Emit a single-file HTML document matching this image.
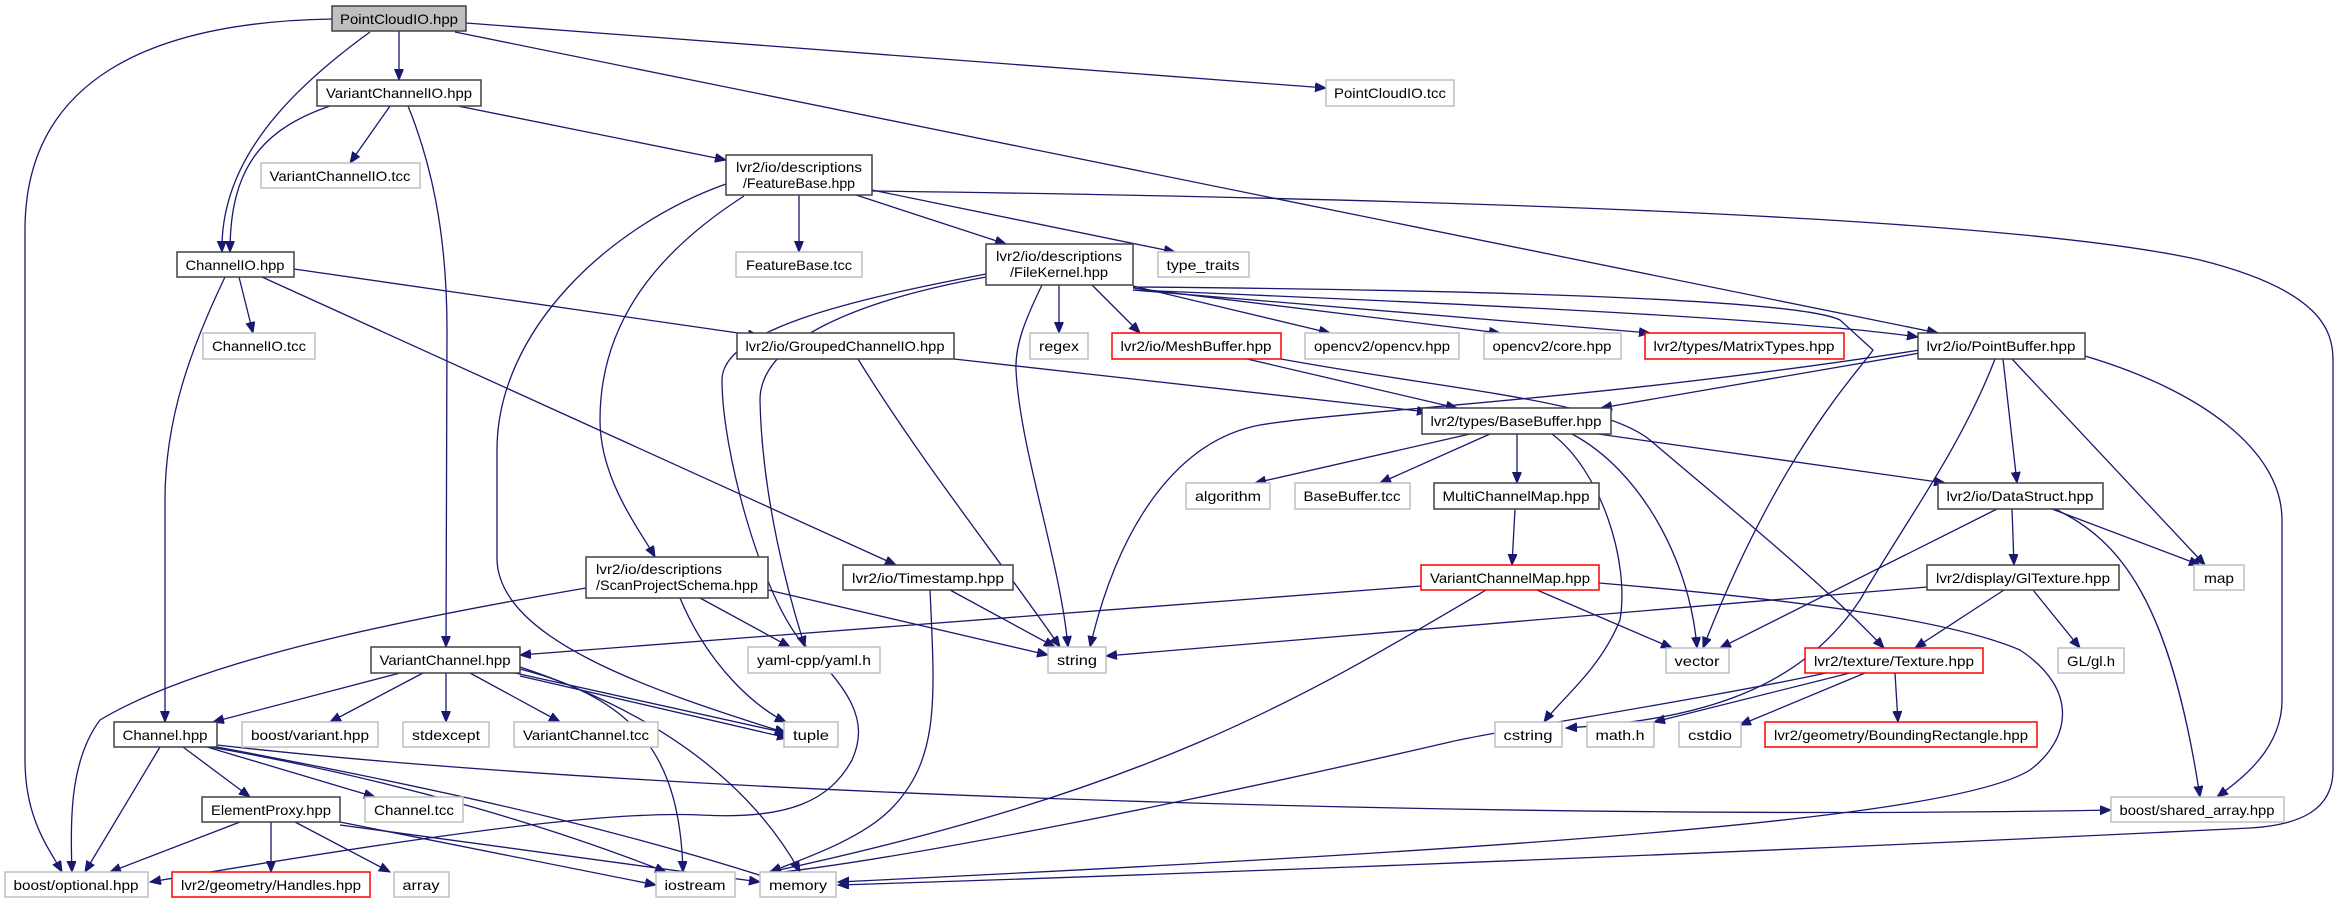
<!DOCTYPE html>
<html><head><meta charset="utf-8"><style>
html,body{margin:0;padding:0;background:#fff;}
svg{display:block;}
text{font-family:"Liberation Sans","DejaVu Sans",sans-serif;font-size:14px;fill:#000;}
.n{fill:#fff;stroke:#404040;stroke-width:1.5;}
.g{fill:#fff;stroke:#bfbfbf;stroke-width:1.5;}
.r{fill:#fff;stroke:#ff0000;stroke-width:1.5;}
.e{fill:none;stroke:#191970;stroke-width:1.3;marker-end:url(#a);}
</style></head><body>
<svg width="2338" height="903" viewBox="0 0 2338 903" xmlns="http://www.w3.org/2000/svg">
<defs><marker id="a" markerUnits="userSpaceOnUse" markerWidth="12" markerHeight="10" refX="11" refY="4.5" orient="auto"><path d="M0,0 L11,4.5 L0,9 z" fill="#191970" stroke="#191970"/></marker></defs>
<g>
<path class="e" d="M332,19 C150,22 25,80 25,230 L25,760 C25,820 50,850 62,872"/>
<path class="e" d="M370,32 C290,90 220,160 222,252"/>
<path class="e" d="M399,31 L399,80"/>
<path class="e" d="M466,23 L1326,88"/>
<path class="e" d="M455,32 L1938,333"/>
<path class="e" d="M390,106 L350,163"/>
<path class="e" d="M330,106 C260,130 230,170 230,252"/>
<path class="e" d="M408,106 C430,160 447,230 447,330 L446,647"/>
<path class="e" d="M458,106 L726,160"/>
<path class="e" d="M239,277 L253,333"/>
<path class="e" d="M294,269 L759,336"/>
<path class="e" d="M262,277 L896,565"/>
<path class="e" d="M225,277 C190,350 165,420 165,500 L165,722"/>
<path class="e" d="M799,195 L799,252"/>
<path class="e" d="M856,195 L1006,244"/>
<path class="e" d="M872,190 L1175,252"/>
<path class="e" d="M872,191 C1400,198 2000,215 2200,260 C2320,290 2333,330 2333,360 L2333,770 C2333,810 2300,825 2250,828 C1600,860 1000,880 838,885"/>
<path class="e" d="M744,196 C660,250 600,320 600,420 C600,480 640,530 655,557"/>
<path class="e" d="M726,184 C610,225 497,330 497,450 L497,560 C500,640 650,690 786,733"/>
<path class="e" d="M1059,285 L1059,333"/>
<path class="e" d="M1092,285 L1140,333"/>
<path class="e" d="M1133,286 L1330,333"/>
<path class="e" d="M1133,288 L1500,333"/>
<path class="e" d="M1133,290 L1650,333"/>
<path class="e" d="M1133,290 C1500,305 1800,320 1918,337"/>
<path class="e" d="M1133,287 C1500,290 1800,300 1840,320 L1873,350 C1860,370 1780,450 1703,648"/>
<path class="e" d="M1042,285 C1025,320 1015,345 1016,370 C1020,450 1060,560 1068,647"/>
<path class="e" d="M986,277 C860,300 760,340 760,400 C762,500 790,600 805,647"/>
<path class="e" d="M986,274 C850,300 722,330 722,380 C722,450 760,590 800,640 C850,690 870,720 852,760 C830,800 790,820 700,815 C600,810 400,840 150,882"/>
<path class="e" d="M954,359 L1428,412"/>
<path class="e" d="M858,359 C920,460 1000,560 1060,647"/>
<path class="e" d="M1247,359 L1457,408"/>
<path class="e" d="M1281,359 C1450,390 1600,400 1650,440 C1720,500 1820,580 1884,648"/>
<path class="e" d="M1920,353 L1601,408"/>
<path class="e" d="M1920,350 C1600,400 1350,410 1260,425 C1180,440 1120,520 1090,647"/>
<path class="e" d="M2003,359 L2017,483"/>
<path class="e" d="M2012,359 L2205,565"/>
<path class="e" d="M2085,356 C2200,390 2282,450 2282,520 L2282,700 C2282,750 2240,780 2217,797"/>
<path class="e" d="M1995,359 C1960,450 1900,530 1860,600 C1800,690 1700,720 1566,728"/>
<path class="e" d="M1470,434 L1255,483"/>
<path class="e" d="M1490,434 L1380,483"/>
<path class="e" d="M1517,434 L1517,483"/>
<path class="e" d="M1572,434 C1640,470 1690,560 1697,648"/>
<path class="e" d="M1552,434 C1600,470 1630,560 1620,620 C1600,670 1560,700 1544,722"/>
<path class="e" d="M1598,434 L1945,483"/>
<path class="e" d="M1515,509 L1512,565"/>
<path class="e" d="M1421,586 L520,655"/>
<path class="e" d="M1537,590 L1672,648"/>
<path class="e" d="M1486,590 C1300,700 1150,790 770,872"/>
<path class="e" d="M1599,583 C1800,600 1950,620 2020,650 C2080,690 2070,740 2030,770 C1950,820 1500,850 838,882"/>
<path class="e" d="M2012,509 L2014,565"/>
<path class="e" d="M2052,509 L2200,565"/>
<path class="e" d="M1997,509 L1720,648"/>
<path class="e" d="M2055,509 C2120,540 2170,600 2200,797"/>
<path class="e" d="M2004,590 L1915,648"/>
<path class="e" d="M2033,590 L2080,648"/>
<path class="e" d="M1927,587 L1106,656"/>
<path class="e" d="M1895,673 L1898,722"/>
<path class="e" d="M1865,673 L1740,725"/>
<path class="e" d="M1850,673 L1654,722"/>
<path class="e" d="M1826,673 C1700,700 1500,730 1450,742 C1200,800 900,860 765,874"/>
<path class="e" d="M950,590 L1055,647"/>
<path class="e" d="M930,590 C935,700 940,760 890,810 C860,840 800,860 770,872"/>
<path class="e" d="M586,588 C400,620 200,660 100,720 C70,760 70,820 72,872"/>
<path class="e" d="M700,598 L790,647"/>
<path class="e" d="M680,598 C710,670 760,710 786,722"/>
<path class="e" d="M768,590 L1048,655"/>
<path class="e" d="M400,673 L213,722"/>
<path class="e" d="M423,673 L330,722"/>
<path class="e" d="M446,673 L446,722"/>
<path class="e" d="M470,673 L560,722"/>
<path class="e" d="M515,673 L786,733"/>
<path class="e" d="M520,676 L788,738"/>
<path class="e" d="M520,669 C640,700 680,760 683,872"/>
<path class="e" d="M520,667 C680,720 760,800 800,872"/>
<path class="e" d="M160,747 L85,872"/>
<path class="e" d="M183,747 L250,797"/>
<path class="e" d="M207,747 L375,797"/>
<path class="e" d="M210,747 C400,780 560,830 666,872"/>
<path class="e" d="M217,747 C500,800 650,840 775,880"/>
<path class="e" d="M217,745 C700,800 1600,820 2111,810"/>
<path class="e" d="M240,822 L110,872"/>
<path class="e" d="M271,822 L271,872"/>
<path class="e" d="M295,822 L390,872"/>
<path class="e" d="M340,822 L656,885"/>
<path class="e" d="M340,825 L760,882"/>
</g>
<g text-anchor="middle">
<rect x="332" y="6" width="134" height="25" fill="#bfbfbf" stroke="#404040" stroke-width="1.5"/><text x="399" y="24" textLength="118" lengthAdjust="spacingAndGlyphs">PointCloudIO.hpp</text>
<rect class="n" x="317" y="80" width="164" height="26"/><text x="399" y="98" textLength="146" lengthAdjust="spacingAndGlyphs">VariantChannelIO.hpp</text>
<rect class="g" x="1326" y="80" width="128" height="26"/><text x="1390" y="98" textLength="112" lengthAdjust="spacingAndGlyphs">PointCloudIO.tcc</text>
<rect class="g" x="261" y="163" width="159" height="25"/><text x="340" y="181" textLength="141" lengthAdjust="spacingAndGlyphs">VariantChannelIO.tcc</text>
<rect class="n" x="726" y="155" width="146" height="40"/><text x="799" y="172" textLength="126" lengthAdjust="spacingAndGlyphs">lvr2/io/descriptions</text><text x="799" y="188" textLength="112" lengthAdjust="spacingAndGlyphs">/FeatureBase.hpp</text>
<rect class="n" x="177" y="252" width="117" height="25"/><text x="235" y="270" textLength="99" lengthAdjust="spacingAndGlyphs">ChannelIO.hpp</text>
<rect class="g" x="736" y="252" width="126" height="25"/><text x="799" y="270" textLength="106" lengthAdjust="spacingAndGlyphs">FeatureBase.tcc</text>
<rect class="n" x="986" y="244" width="147" height="41"/><text x="1059" y="261" textLength="126" lengthAdjust="spacingAndGlyphs">lvr2/io/descriptions</text><text x="1059" y="277" textLength="98" lengthAdjust="spacingAndGlyphs">/FileKernel.hpp</text>
<rect class="g" x="1158" y="252" width="91" height="25"/><text x="1203" y="270" textLength="73" lengthAdjust="spacingAndGlyphs">type_traits</text>
<rect class="g" x="203" y="333" width="112" height="26"/><text x="259" y="351" textLength="94" lengthAdjust="spacingAndGlyphs">ChannelIO.tcc</text>
<rect class="n" x="737" y="333" width="217" height="26"/><text x="845" y="351" textLength="199" lengthAdjust="spacingAndGlyphs">lvr2/io/GroupedChannelIO.hpp</text>
<rect class="g" x="1030" y="333" width="58" height="26"/><text x="1059" y="351" textLength="40" lengthAdjust="spacingAndGlyphs">regex</text>
<rect class="r" x="1112" y="333" width="169" height="26"/><text x="1196" y="351" textLength="151" lengthAdjust="spacingAndGlyphs">lvr2/io/MeshBuffer.hpp</text>
<rect class="g" x="1305" y="333" width="154" height="26"/><text x="1382" y="351" textLength="136" lengthAdjust="spacingAndGlyphs">opencv2/opencv.hpp</text>
<rect class="g" x="1484" y="333" width="137" height="26"/><text x="1552" y="351" textLength="119" lengthAdjust="spacingAndGlyphs">opencv2/core.hpp</text>
<rect class="r" x="1645" y="333" width="199" height="26"/><text x="1744" y="351" textLength="181" lengthAdjust="spacingAndGlyphs">lvr2/types/MatrixTypes.hpp</text>
<rect class="n" x="1918" y="333" width="167" height="26"/><text x="2001" y="351" textLength="149" lengthAdjust="spacingAndGlyphs">lvr2/io/PointBuffer.hpp</text>
<rect class="n" x="1422" y="408" width="189" height="26"/><text x="1516" y="426" textLength="171" lengthAdjust="spacingAndGlyphs">lvr2/types/BaseBuffer.hpp</text>
<rect class="g" x="1186" y="483" width="84" height="26"/><text x="1228" y="501" textLength="66" lengthAdjust="spacingAndGlyphs">algorithm</text>
<rect class="g" x="1295" y="483" width="115" height="26"/><text x="1352" y="501" textLength="97" lengthAdjust="spacingAndGlyphs">BaseBuffer.tcc</text>
<rect class="n" x="1434" y="483" width="165" height="26"/><text x="1516" y="501" textLength="147" lengthAdjust="spacingAndGlyphs">MultiChannelMap.hpp</text>
<rect class="n" x="1938" y="483" width="165" height="26"/><text x="2020" y="501" textLength="147" lengthAdjust="spacingAndGlyphs">lvr2/io/DataStruct.hpp</text>
<rect class="n" x="586" y="557" width="182" height="41"/><text x="596" y="574" text-anchor="start" textLength="126" lengthAdjust="spacingAndGlyphs">lvr2/io/descriptions</text><text x="596" y="590" text-anchor="start" textLength="162" lengthAdjust="spacingAndGlyphs">/ScanProjectSchema.hpp</text>
<rect class="n" x="843" y="565" width="170" height="25"/><text x="928" y="583" textLength="152" lengthAdjust="spacingAndGlyphs">lvr2/io/Timestamp.hpp</text>
<rect class="r" x="1421" y="565" width="178" height="25"/><text x="1510" y="583" textLength="160" lengthAdjust="spacingAndGlyphs">VariantChannelMap.hpp</text>
<rect class="n" x="1927" y="565" width="192" height="25"/><text x="2023" y="583" textLength="174" lengthAdjust="spacingAndGlyphs">lvr2/display/GlTexture.hpp</text>
<rect class="g" x="2194" y="565" width="50" height="25"/><text x="2219" y="583" textLength="30" lengthAdjust="spacingAndGlyphs">map</text>
<rect class="n" x="371" y="647" width="149" height="26"/><text x="445" y="665" textLength="131" lengthAdjust="spacingAndGlyphs">VariantChannel.hpp</text>
<rect class="g" x="748" y="647" width="132" height="26"/><text x="814" y="665" textLength="114" lengthAdjust="spacingAndGlyphs">yaml-cpp/yaml.h</text>
<rect class="g" x="1048" y="647" width="58" height="26"/><text x="1077" y="665" textLength="40" lengthAdjust="spacingAndGlyphs">string</text>
<rect class="g" x="1666" y="648" width="63" height="25"/><text x="1697" y="666" textLength="45" lengthAdjust="spacingAndGlyphs">vector</text>
<rect class="r" x="1805" y="648" width="178" height="25"/><text x="1894" y="666" textLength="160" lengthAdjust="spacingAndGlyphs">lvr2/texture/Texture.hpp</text>
<rect class="g" x="2058" y="648" width="66" height="25"/><text x="2091" y="666" textLength="48" lengthAdjust="spacingAndGlyphs">GL/gl.h</text>
<rect class="n" x="114" y="722" width="103" height="25"/><text x="165" y="740" textLength="85" lengthAdjust="spacingAndGlyphs">Channel.hpp</text>
<rect class="g" x="242" y="722" width="136" height="25"/><text x="310" y="740" textLength="118" lengthAdjust="spacingAndGlyphs">boost/variant.hpp</text>
<rect class="g" x="403" y="722" width="86" height="25"/><text x="446" y="740" textLength="68" lengthAdjust="spacingAndGlyphs">stdexcept</text>
<rect class="g" x="514" y="722" width="144" height="25"/><text x="586" y="740" textLength="126" lengthAdjust="spacingAndGlyphs">VariantChannel.tcc</text>
<rect class="g" x="784" y="722" width="54" height="25"/><text x="811" y="740" textLength="36" lengthAdjust="spacingAndGlyphs">tuple</text>
<rect class="g" x="1495" y="722" width="67" height="25"/><text x="1528" y="740" textLength="49" lengthAdjust="spacingAndGlyphs">cstring</text>
<rect class="g" x="1587" y="722" width="67" height="25"/><text x="1620" y="740" textLength="49" lengthAdjust="spacingAndGlyphs">math.h</text>
<rect class="g" x="1679" y="722" width="62" height="25"/><text x="1710" y="740" textLength="44" lengthAdjust="spacingAndGlyphs">cstdio</text>
<rect class="r" x="1765" y="722" width="272" height="25"/><text x="1901" y="740" textLength="254" lengthAdjust="spacingAndGlyphs">lvr2/geometry/BoundingRectangle.hpp</text>
<rect class="n" x="202" y="797" width="138" height="25"/><text x="271" y="815" textLength="120" lengthAdjust="spacingAndGlyphs">ElementProxy.hpp</text>
<rect class="g" x="365" y="797" width="98" height="25"/><text x="414" y="815" textLength="80" lengthAdjust="spacingAndGlyphs">Channel.tcc</text>
<rect class="g" x="2111" y="797" width="173" height="25"/><text x="2197" y="815" textLength="155" lengthAdjust="spacingAndGlyphs">boost/shared_array.hpp</text>
<rect class="g" x="5" y="872" width="143" height="25"/><text x="76" y="890" textLength="125" lengthAdjust="spacingAndGlyphs">boost/optional.hpp</text>
<rect class="r" x="172" y="872" width="198" height="25"/><text x="271" y="890" textLength="180" lengthAdjust="spacingAndGlyphs">lvr2/geometry/Handles.hpp</text>
<rect class="g" x="394" y="872" width="55" height="25"/><text x="421" y="890" textLength="37" lengthAdjust="spacingAndGlyphs">array</text>
<rect class="g" x="656" y="872" width="79" height="25"/><text x="695" y="890" textLength="61" lengthAdjust="spacingAndGlyphs">iostream</text>
<rect class="g" x="760" y="872" width="76" height="25"/><text x="798" y="890" textLength="58" lengthAdjust="spacingAndGlyphs">memory</text>
</g>
</svg>
</body></html>
